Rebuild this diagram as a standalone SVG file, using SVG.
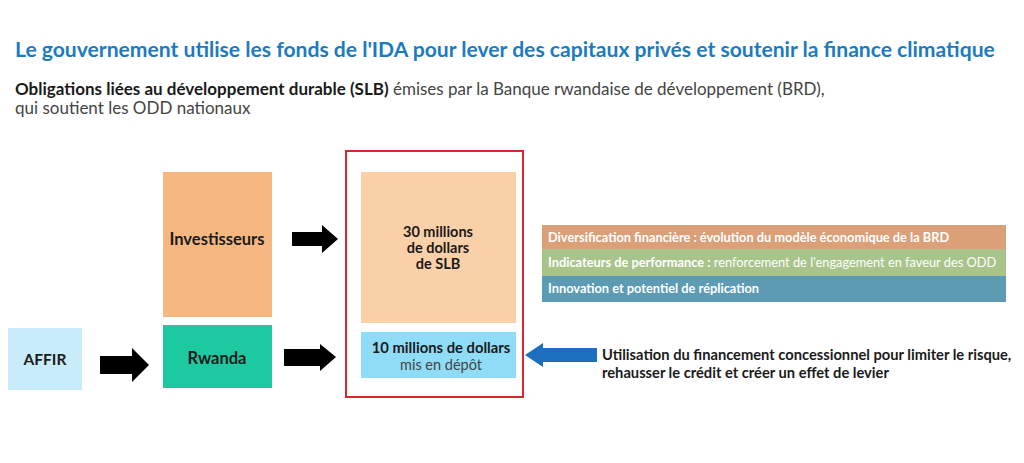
<svg xmlns="http://www.w3.org/2000/svg" width="1024" height="463" viewBox="0 0 1024 463">
<style>
text{font-family:Lato,"Open Sans","Liberation Sans",sans-serif}
.title{font-size:21.1px;font-weight:700;fill:#1b7bc0}
.sub{font-size:17px;fill:#444}
.b{font-weight:700;fill:#1a1a1a}
.lbl{font-size:16.5px;font-weight:700;fill:#1a1a1a;text-anchor:middle}
.bar{font-size:12.8px;font-weight:700;fill:#fff}
.reg{font-weight:400}
.note{font-size:14.7px;font-weight:700;fill:#1a1a1a}
.blk{fill:#000}
</style>
<rect width="1024" height="463" fill="#fff"/>
<text class="title" x="15" y="57">Le gouvernement utilise les fonds de l'IDA pour lever des capitaux privés et soutenir la finance climatique</text>
<text class="sub" x="15" y="95"><tspan class="b">Obligations liées au développement durable (SLB)</tspan> émises par la Banque rwandaise de développement (BRD),</text>
<text class="sub" x="15" y="114">qui soutient les ODD nationaux</text>

<g id="affir">
<rect x="8" y="328" width="74" height="62" fill="#c9ecfb"/>
<text class="lbl" x="45" y="365" style="font-size:15.5px">AFFIR</text>
</g>
<g id="investisseurs">
<rect x="163" y="172" width="109" height="145" fill="#f6b880"/>
<text class="lbl" x="217" y="245">Investisseurs</text>
</g>
<g id="rwanda">
<rect x="163" y="325" width="109" height="63" fill="#1cc9a0"/>
<text class="lbl" x="217" y="364">Rwanda</text>
</g>
<g id="bond">
<rect x="346" y="151" width="177" height="246" fill="none" stroke="#d9262c" stroke-width="2"/>
<rect x="361" y="172" width="155" height="151" fill="#f9d0a8"/>
<text class="lbl" x="438" y="237" style="font-size:14.5px">30 millions</text>
<text class="lbl" x="438" y="253" style="font-size:14.5px">de dollars</text>
<text class="lbl" x="438" y="269" style="font-size:14.5px">de SLB</text>
</g>
<g id="depot">
<rect x="361" y="332" width="155" height="46" fill="#8fdcf7"/>
<text class="lbl" x="441" y="353" style="font-size:14.8px">10 millions de dollars</text>
<text class="lbl" x="441" y="370" style="font-size:14.5px;font-weight:400;fill:#444">mis en dépôt</text>
</g>
<g id="benefits">
<rect x="542" y="225" width="464" height="24" fill="#dca078"/>
<rect x="542" y="249" width="464" height="27" fill="#a9c48b"/>
<rect x="542" y="276" width="464" height="26" fill="#5c9bb3"/>
<text class="bar" x="548" y="242">Diversification financière : évolution du modèle économique de la BRD</text>
<text class="bar" x="548" y="267">Indicateurs de performance :<tspan class="reg"> renforcement de l'engagement en faveur des ODD</tspan></text>
<text class="bar" x="548" y="293">Innovation et potentiel de réplication</text>
</g>
<g id="note">
<text class="note" x="602" y="360">Utilisation du financement concessionnel pour limiter le risque,</text>
<text class="note" x="602" y="378">rehausser le crédit et créer un effet de levier</text>
</g>

<g id="connectors">
<path class="blk" d="M100,356 H132 V348 L149,365 L132,382 V374 H100 Z"/>
<path class="blk" d="M292,232 H322 V225 L338,239 L322,253 V246 H292 Z"/>
<path class="blk" d="M284,349 H320 V344 L336,357 L320,371 V366 H284 Z"/>
<path d="M597,348 H543 V343 L525,355 L543,367 V362 H597 Z" fill="#1b6fbd"/>
</g>
</svg>
